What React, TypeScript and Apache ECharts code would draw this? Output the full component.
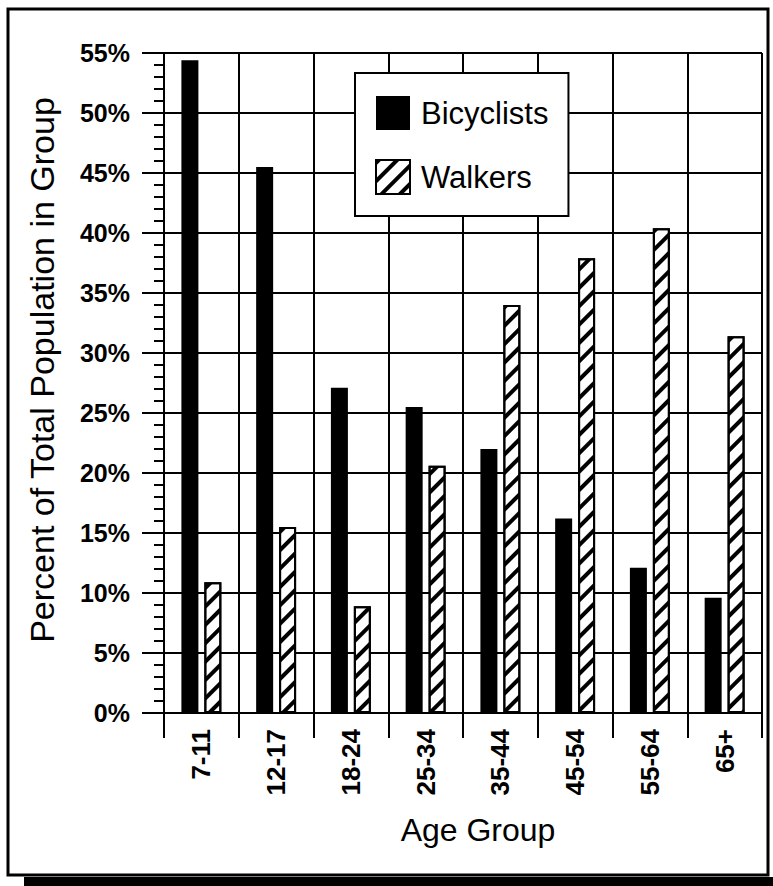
import React, { useEffect, useRef } from "react";
import * as echarts from "echarts";

const categories = ["7-11", "12-17", "18-24", "25-34", "35-44", "45-54", "55-64", "65+"];
const bicyclists = [54.4, 45.5, 27.1, 25.5, 22.0, 16.2, 12.1, 9.6];
const walkers = [10.9, 15.5, 8.9, 20.6, 34.0, 37.9, 40.4, 31.4];
const seriesNames = ["Bicyclists", "Walkers"];
const yTitle = "Percent of Total Population in Group";
const xTitle = "Age Group";

const FONT = "'Liberation Sans', Arial, Helvetica, sans-serif";

export default function App() {
  const ref = useRef<HTMLDivElement>(null);
  useEffect(() => {
    document.body.style.margin = "0";
    const chart = echarts.init(ref.current!, null, { renderer: "svg" });
    const hatch = {
      symbol: "rect",
      symbolSize: 1,
      dashArrayX: [1, 0],
      dashArrayY: [4, 9],
      rotation: -Math.PI / 4,
      color: "#000",
      backgroundColor: "#fff",
    };
    chart.setOption({
      animation: false,
      backgroundColor: "#fff",
      textStyle: { fontFamily: FONT },
      grid: { left: 164, top: 53, right: 11, bottom: 173, containLabel: false },
      legend: {
        left: 355,
        top: 73,
        orient: "vertical",
        itemWidth: 34,
        itemHeight: 34,
        itemGap: 29,
        padding: [23, 20, 21, 20],
        backgroundColor: "#fff",
        borderColor: "#000",
        borderWidth: 2,
        icon: "rect",
        z: 10,
        textStyle: { fontSize: 31, color: "#000", fontFamily: FONT, padding: [0, 0, 0, 6], width: 134 },
        data: seriesNames,
      },
      xAxis: {
        type: "category",
        data: categories,
        axisLine: { lineStyle: { color: "#000", width: 2 } },
        axisTick: { show: true, length: 25, lineStyle: { color: "#000", width: 2 } },
        splitLine: { show: true, lineStyle: { color: "#000", width: 2 } },
        axisLabel: {
          rotate: 90,
          margin: 16,
          fontSize: 26,
          fontWeight: "bold",
          color: "#000",
          fontFamily: FONT,
        },
      },
      yAxis: {
        type: "value",
        min: 0,
        max: 55,
        interval: 5,
        axisLine: { show: true, lineStyle: { color: "#000", width: 2 } },
        axisTick: { show: true, length: 22, lineStyle: { color: "#000", width: 2 } },
        minorTick: { show: true, splitNumber: 5, length: 10, lineStyle: { color: "#000", width: 2 } },
        splitLine: { show: true, lineStyle: { color: "#000", width: 2 } },
        axisLabel: {
          formatter: "{value}%",
          margin: 34,
          fontSize: 25,
          fontWeight: "bold",
          color: "#000",
          fontFamily: FONT,
        },
      },
      series: [
        {
          name: seriesNames[0],
          type: "bar",
          data: bicyclists,
          barWidth: 17,
          barGap: "35%",
          itemStyle: { color: "#000" },
        },
        {
          name: seriesNames[1],
          type: "bar",
          data: walkers,
          barWidth: 17,
          itemStyle: { color: "#fff", borderColor: "#000", borderWidth: 2, decal: hatch },
        },
      ],
      graphic: [
        {
          type: "rect",
          shape: { x: 8, y: 9, width: 760, height: 866 },
          style: { fill: "none", stroke: "#000", lineWidth: 3 },
          silent: true,
        },
        {
          type: "rect",
          shape: { x: 24, y: 877, width: 749, height: 9 },
          style: { fill: "#000" },
          silent: true,
        },
        {
          type: "text",
          x: 42,
          y: 370,
          rotation: Math.PI / 2,
          style: {
            text: yTitle,
            fill: "#000",
            fontSize: 34,
            fontFamily: FONT,
            align: "center",
            verticalAlign: "middle",
          },
        },
        {
          type: "text",
          x: 478,
          y: 830,
          style: {
            text: xTitle,
            fill: "#000",
            fontSize: 32,
            fontFamily: FONT,
            align: "center",
            verticalAlign: "middle",
          },
        },
      ],
    });
    return () => chart.dispose();
  }, []);
  return <div ref={ref} style={{ width: 773, height: 886 }} />;
}
